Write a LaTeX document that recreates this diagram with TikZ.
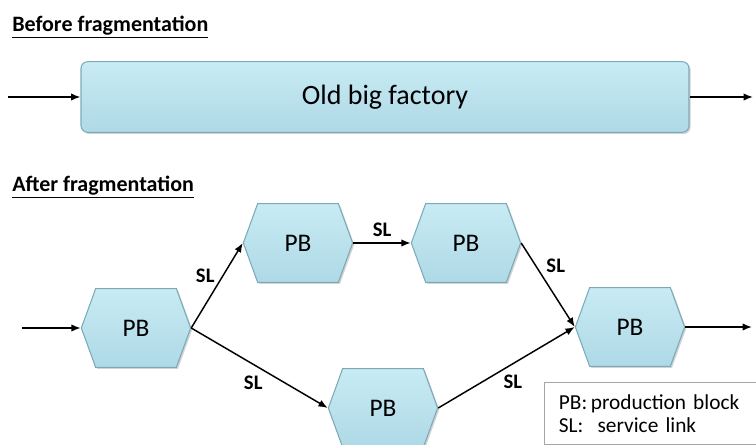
\documentclass[tikz,border=0pt]{standalone}
\usepackage{fontspec}
\setmainfont{Carlito}
\usepackage{tikz}
\usetikzlibrary{shapes.symbols,arrows.meta,shadows}
\definecolor{pbfill}{RGB}{200,235,244}
\definecolor{pbdark}{RGB}{174,217,230}
\definecolor{pbline}{RGB}{125,170,186}

\begin{document}
\begin{tikzpicture}[x=0.75pt,y=-0.75pt,
    block/.style={draw=pbline, line width=0.8pt, top color=pbfill, bottom color=pbdark,
        drop shadow={opacity=0.35, shadow xshift=1.2pt, shadow yshift=-1.2pt}},
    pbbox/.style={block, signal, signal to=east and west, signal pointer angle=140,
        minimum width=82pt, minimum height=59pt, inner sep=0pt, font=\fontsize{19}{21}\selectfont},
    link/.style={line width=1.1pt, -{Latex[length=7pt,width=5.5pt]}},
    sl/.style={font=\fontsize{15.5}{17}\selectfont\bfseries},
    title/.style={anchor=base west, inner sep=0pt, font=\fontsize{16.5}{18}\selectfont\bfseries}]
            \clip (0,0) rectangle (756,445);
            \useasboundingbox (0,0) rectangle (756,445);

            % Before fragmentation
            \node[title] (before) at (12,32) {\underline{Before fragmentation}};
            \node[block, rounded corners=5pt, minimum width=456pt, minimum height=53pt,
                font=\fontsize{21}{24}\selectfont] (factory) at (385,97) {Old big factory};
            \coordinate (in0) at (8,97);
            \coordinate (out0) at (753,97);
            \draw[link] (in0) -- (factory);
            \draw[link] (factory) -- (out0);

            % After fragmentation
            \node[title] (after) at (12,192) {\underline{After fragmentation}};
            \node[pbbox] (pba) at (136,328) {PB};
            \node[pbbox] (pbb) at (298,243) {PB};
            \node[pbbox] (pbc) at (466,243) {PB};
            \node[pbbox] (pbd) at (630,327) {PB};
            \node[pbbox] (pbe) at (383,408) {PB};
            \coordinate (in1) at (22,328);
            \coordinate (out1) at (752,327);

            % Service links
            \draw[link] (in1) -- (pba.west);
            \draw[link] (pba.east) -- (pbb.west) node[sl, pos=0.5, above left=-2pt] {SL};
            \draw[link] (pba.east) -- (pbe.west) node[sl, pos=0.55, below left=-1pt] {SL};
            \draw[link] (pbb.east) -- (pbc.west) node[sl, midway, above=1pt] {SL};
            \draw[link] (pbc.east) -- (pbd.west) node[sl, pos=0.4, above right=-1pt] {SL};
            \draw[link] (pbe.east) -- (pbd.west) node[sl, pos=0.45, below right=-1pt] {SL};
            \draw[link] (pbd.east) -- (out1);

            % Legend
            \node[draw=gray!70, anchor=north west, align=left, text width=175pt,
                inner xsep=11pt, inner ysep=9pt, font=\fontsize{16}{17.5}\selectfont]
                (legend) at (544,382) {PB:\,production block\\SL:\ \ service link};
\end{tikzpicture}
\end{document}
